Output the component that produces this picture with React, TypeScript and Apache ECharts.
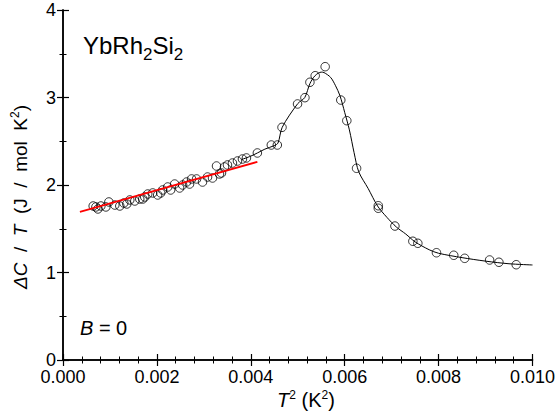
import React, { useEffect, useRef } from "react";
import * as echarts from "echarts";

// Measured data points (T^2 in K^2, ΔC/T in J/mol K^2)
const pointsT2 = [
  0.000643, 0.000701, 0.000743, 0.000807, 0.000913, 0.000977, 0.001104, 0.00121, 0.001295, 0.001359,
  0.001423, 0.001529, 0.001635, 0.001699, 0.001741, 0.001805, 0.001911, 0.002017, 0.002081, 0.002123,
  0.00223, 0.002293, 0.002378, 0.002484, 0.002548, 0.002633, 0.002696, 0.002739, 0.002845, 0.002972,
  0.003079, 0.003185, 0.00327, 0.003333, 0.003376, 0.00344, 0.003503, 0.003609, 0.003716, 0.003822,
  0.003907, 0.00414, 0.004437, 0.004565, 0.004665, 0.004996, 0.005153, 0.005259, 0.005372, 0.005584,
  0.005917, 0.006045, 0.006253, 0.006716, 0.006716, 0.00707, 0.007452, 0.007558, 0.007955, 0.008323,
  0.008556, 0.009087, 0.009285, 0.009654,
];
const pointsC = [
  1.76, 1.749, 1.726, 1.76, 1.749, 1.806, 1.771, 1.76, 1.794, 1.783,
  1.829, 1.817, 1.84, 1.84, 1.863, 1.897, 1.909, 1.886, 1.909, 1.943,
  1.977, 1.943, 2.011, 1.966, 2.0, 2.034, 2.011, 2.069, 2.069, 2.034,
  2.091, 2.08, 2.217, 2.126, 2.137, 2.206, 2.229, 2.251, 2.274, 2.297,
  2.309, 2.366, 2.457, 2.457, 2.659, 2.926, 2.998, 3.174, 3.249, 3.352,
  2.971, 2.735, 2.191, 1.763, 1.734, 1.531, 1.357, 1.334, 1.226, 1.197,
  1.162, 1.143, 1.117, 1.089,
];

// Black guide curve
const curveT2 = [
  0.0038, 0.0040, 0.00414, 0.0043, 0.0045, 0.00458, 0.00467, 0.0050, 0.00515, 0.00526,
  0.00537, 0.0055, 0.00556, 0.0057, 0.0058, 0.0059, 0.0060, 0.0061, 0.0062, 0.0063,
  0.0065, 0.0067, 0.0069, 0.0071, 0.0073, 0.0075, 0.0078, 0.0080, 0.0085, 0.0090,
  0.0095, 0.0100,
];
const curveC = [
  2.29, 2.33, 2.366, 2.41, 2.45, 2.48, 2.66, 2.93, 3.0, 3.16,
  3.25, 3.29, 3.285, 3.23, 3.14, 3.02, 2.83, 2.63, 2.37, 2.15,
  1.96, 1.76, 1.63, 1.52, 1.44, 1.35, 1.26, 1.22, 1.17, 1.13,
  1.10, 1.086,
];

// Red linear fit
const fitT2 = [0.00036, 0.00414];
const fitC = [1.694, 2.265];

const xTicks = { min: 0, max: 0.01, interval: 0.002 };
const yTicks = { min: 0, max: 4, interval: 1 };

const FONT = "'Liberation Sans', Arial, Helvetica, sans-serif";

export default function App() {
  const ref = useRef<HTMLDivElement>(null);
  useEffect(() => {
    if (!ref.current) return;
    const chart = echarts.init(ref.current, undefined, { renderer: "svg" });
    const axisLine = { show: true, lineStyle: { color: "#000", width: 1.5 } };
    const tick = { show: true, inside: true, length: 6, lineStyle: { color: "#000", width: 1.2 } };
    const minorTick = (n: number) => ({ show: true, splitNumber: n, length: 3.5, lineStyle: { color: "#000", width: 1 } });
    const main = (italic: boolean, size = 20) => ({
      fontSize: size,
      fontStyle: italic ? "italic" : "normal",
      fontFamily: FONT,
      fill: "#000",
      lineHeight: 22,
    });
    const sup = { fontSize: 12, fontFamily: FONT, fill: "#000", verticalAlign: "top", lineHeight: 12 };
    chart.setOption({
      animation: false,
      backgroundColor: "#fff",
      grid: { left: 63, right: 24, top: 10, bottom: 52 },
      xAxis: [
        {
          type: "value",
          min: xTicks.min,
          max: xTicks.max,
          interval: xTicks.interval,
          position: "bottom",
          axisLine,
          axisTick: tick,
          minorTick: minorTick(5),
          splitLine: { show: false },
          axisLabel: {
            color: "#000",
            fontSize: 18,
            fontFamily: FONT,
            margin: 9,
            lineHeight: 15,
            formatter: (v: number) => v.toFixed(3),
          },
        },
        {
          type: "value",
          min: xTicks.min,
          max: xTicks.max,
          interval: xTicks.interval,
          position: "top",
          axisLine,
          axisTick: tick,
          minorTick: minorTick(5),
          splitLine: { show: false },
          axisLabel: { show: false },
        },
      ],
      yAxis: [
        {
          type: "value",
          min: yTicks.min,
          max: yTicks.max,
          interval: yTicks.interval,
          position: "left",
          axisLine,
          axisTick: tick,
          minorTick: minorTick(2),
          splitLine: { show: false },
          axisLabel: { color: "#000", fontSize: 18, fontFamily: FONT, margin: 7, lineHeight: 14 },
        },
        {
          type: "value",
          min: yTicks.min,
          max: yTicks.max,
          interval: yTicks.interval,
          position: "right",
          axisLine,
          axisTick: tick,
          minorTick: minorTick(2),
          splitLine: { show: false },
          axisLabel: { show: false },
        },
      ],
      series: [
        {
          type: "line",
          data: curveT2.map((x, i) => [x, curveC[i]]),
          showSymbol: false,
          symbol: "none",
          smooth: 0.3,
          lineStyle: { color: "#000", width: 1 },
          z: 2,
        },
        {
          type: "scatter",
          data: pointsT2.map((x, i) => [x, pointsC[i]]),
          symbol: "circle",
          symbolSize: 8.5,
          itemStyle: { color: "rgba(0,0,0,0)", borderColor: "#000", borderWidth: 1 },
          z: 3,
        },
        {
          type: "line",
          data: fitT2.map((x, i) => [x, fitC[i]]),
          symbol: "none",
          lineStyle: { color: "#ff0000", width: 1.8 },
          z: 4,
        },
      ],
      graphic: [
        {
          type: "text",
          left: 83,
          top: 33,
          style: {
            text: "{m|YbRh}{s|2}{m|Si}{s|2}",
            rich: {
              m: { fontSize: 24, fontFamily: FONT, fill: "#000", lineHeight: 36 },
              s: { fontSize: 17, fontFamily: FONT, fill: "#000", verticalAlign: "bottom", lineHeight: 14 },
            },
          },
        },
        {
          type: "text",
          left: 80,
          top: 318,
          style: {
            text: "{i|B}{n| = 0}",
            rich: { i: main(true), n: main(false) },
          },
        },
        {
          type: "text",
          x: 306,
          y: 400,
          style: {
            text: "{i|T}{s|2}{n| (K}{s|2}{n|)}",
            align: "center",
            verticalAlign: "middle",
            rich: { i: main(true), n: main(false), s: sup },
          },
        },
        {
          type: "text",
          x: 20,
          y: 197,
          rotation: Math.PI / 2,
          style: {
            text: "{i|ΔC}{n|  /  }{i|T}{n|  (J  /  mol  K}{s|2}{n|)}",
            align: "center",
            verticalAlign: "middle",
            rich: { i: main(true, 19), n: main(false, 19), s: sup },
          },
        },
      ],
    });
    return () => chart.dispose();
  }, []);
  return <div ref={ref} style={{ position: "fixed", left: 0, top: 0, width: 558, height: 412 }} />;
}
